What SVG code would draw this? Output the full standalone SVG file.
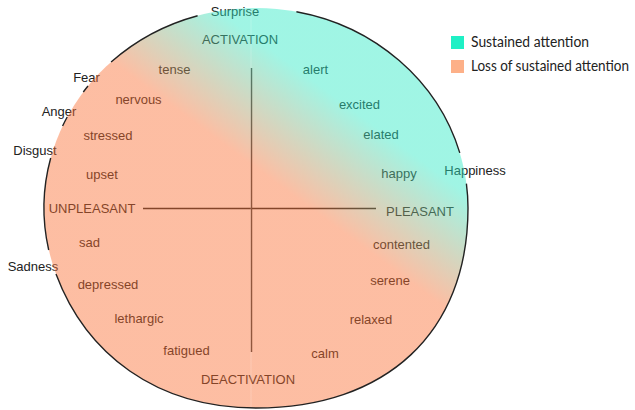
<svg xmlns="http://www.w3.org/2000/svg" width="635" height="410" viewBox="0 0 635 410">
  <defs>
    <linearGradient id="mood" gradientUnits="userSpaceOnUse" x1="283" y1="188" x2="345" y2="104">
      <stop offset="0" stop-color="#fa6e32"/>
      <stop offset="1" stop-color="#2ce9c4"/>
    </linearGradient>
    <style>
      .lbl { font-family: "Liberation Sans", Arial, sans-serif; font-size: 13px; fill: #222; }
      .axis { stroke: #222; stroke-width: 1.4; fill: none; }
      .rim { stroke: #222; stroke-width: 1.4; fill: none; }
      .leg { font-family: Lato, "Open Sans", sans-serif; font-size: 14.5px; fill: #222; }
    </style>
  </defs>
  <rect width="635" height="410" fill="#fff"/>

  <g id="axes">
    <line class="axis" x1="251.5" y1="68" x2="251.5" y2="352"/>
    <line class="axis" x1="143" y1="208.5" x2="376" y2="208.5"/>
  </g>

  <g id="labels">
    <text class="lbl" x="235" y="15.5" text-anchor="middle">Surprise</text>
    <text class="lbl" x="240" y="44" text-anchor="middle">ACTIVATION</text>
    <text class="lbl" x="174.5" y="73.5" text-anchor="middle">tense</text>
    <text class="lbl" x="315.5" y="73.5" text-anchor="middle">alert</text>
    <text class="lbl" x="86.5" y="81.5" text-anchor="middle">Fear</text>
    <text class="lbl" x="138.5" y="103.5" text-anchor="middle">nervous</text>
    <text class="lbl" x="59" y="116" text-anchor="middle">Anger</text>
    <text class="lbl" x="359.5" y="109" text-anchor="middle">excited</text>
    <text class="lbl" x="108" y="139.5" text-anchor="middle">stressed</text>
    <text class="lbl" x="381" y="139" text-anchor="middle">elated</text>
    <text class="lbl" x="35" y="154.5" text-anchor="middle">Disgust</text>
    <text class="lbl" x="102" y="178.5" text-anchor="middle">upset</text>
    <text class="lbl" x="399" y="178" text-anchor="middle">happy</text>
    <text class="lbl" x="475" y="175" text-anchor="middle">Happiness</text>
    <text class="lbl" x="92" y="212.5" text-anchor="middle">UNPLEASANT</text>
    <text class="lbl" x="420" y="215.5" text-anchor="middle">PLEASANT</text>
    <text class="lbl" x="89.5" y="246.5" text-anchor="middle">sad</text>
    <text class="lbl" x="401.5" y="248.5" text-anchor="middle">contented</text>
    <text class="lbl" x="33" y="270.5" text-anchor="middle">Sadness</text>
    <text class="lbl" x="390" y="285" text-anchor="middle">serene</text>
    <text class="lbl" x="108" y="288.5" text-anchor="middle">depressed</text>
    <text class="lbl" x="139" y="322.5" text-anchor="middle">lethargic</text>
    <text class="lbl" x="371" y="323.5" text-anchor="middle">relaxed</text>
    <text class="lbl" x="186.5" y="355" text-anchor="middle">fatigued</text>
    <text class="lbl" x="325" y="357.5" text-anchor="middle">calm</text>
    <text class="lbl" x="248" y="384" text-anchor="middle">DEACTIVATION</text>
  </g>

  <g id="overlay">
    <path d="M 44 208 A 212 200 0 0 1 468 208 C 468 333 386 408 256 408 C 156 408 86 354 56 274 A 212 200 0 0 1 44 208 Z" fill="url(#mood)" fill-opacity="0.45"/>
    <line x1="251" y1="9" x2="251" y2="407" stroke="#fff" stroke-opacity="0.2" stroke-width="1"/>
  </g>

  <g id="rim">
    <path class="rim" d="M 296.4 11.7 A 212 200 0 0 1 459.8 152.9"/>
    <path class="rim" d="M 466.4 183.6 A 212 200 0 0 1 468 208 C 468 333 386 408 256 408 C 156 408 86 354 56 274"/>
    <path class="rim" d="M 48.7 250 A 212 200 0 0 1 50.7 158"/>
    <path class="rim" d="M 62.6 126 A 212 200 0 0 1 67.2 117"/>
    <path class="rim" d="M 83.3 92 A 212 200 0 0 1 88 86"/>
    <path class="rim" d="M 111.1 62 A 212 200 0 0 1 197.6 15.7"/>
  </g>

  <g id="legend">
    <rect x="451" y="36" width="13" height="13" fill="#1ff0c5"/>
    <text class="leg" x="471" y="47" textLength="118" lengthAdjust="spacingAndGlyphs">Sustained attention</text>
    <rect x="451" y="60" width="13" height="13" fill="#fdb088"/>
    <text class="leg" x="471" y="71" textLength="158" lengthAdjust="spacingAndGlyphs">Loss of sustained attention</text>
  </g>
</svg>
